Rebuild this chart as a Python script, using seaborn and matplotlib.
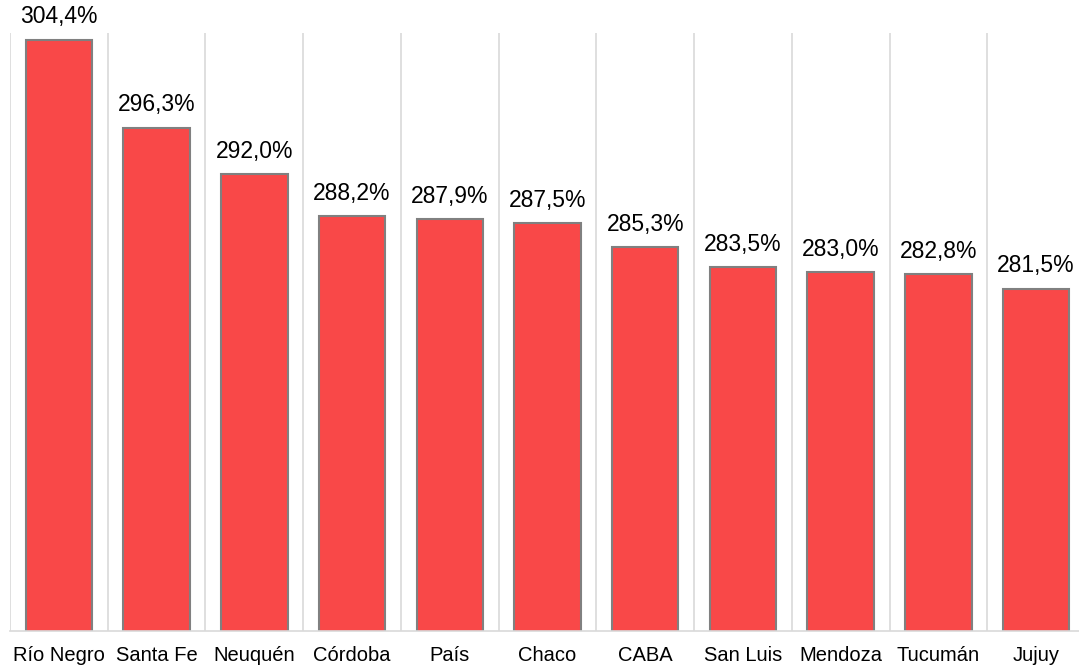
import matplotlib
matplotlib.use("Agg")
import matplotlib.pyplot as plt
import seaborn as sns
import pandas as pd

# data
provincias = ["Río Negro", "Santa Fe", "Neuquén", "Córdoba", "País", "Chaco",
              "CABA", "San Luis", "Mendoza", "Tucumán", "Jujuy"]
variacion = [304.4, 296.3, 292.0, 288.2, 287.9, 287.5, 285.3, 283.5, 283.0, 282.8, 281.5]

df = pd.DataFrame({"provincia": provincias, "variacion": variacion})

sns.set_theme(style="white")
plt.rcParams["font.family"] = ["Liberation Sans", "DejaVu Sans"]

fig = plt.figure(figsize=(10.79, 6.71), dpi=100)
ax = fig.add_axes([10 / 1079, 40 / 671, 1075 / 1079, 598 / 671])

sns.barplot(data=df, x="provincia", y="variacion", color="#F94848",
            saturation=1, width=0.68, edgecolor="#808080", linewidth=1.5, ax=ax)

ax.set_ylim(250, 305)
ax.set_xlim(-0.5, len(provincias) - 0.5)

# vertical separators between categories
for i in range(len(provincias) + 1):
    ax.axvline(i - 0.5, color="#D9D9D9", linewidth=1.2, zorder=0)

for i, v in enumerate(variacion):
    ax.annotate(f"{v:.1f}%".replace(".", ","), (i, v), xytext=(0, 8),
                textcoords="offset points", ha="center", va="bottom",
                fontsize=16.5, color="black", annotation_clip=False)

for s in ["top", "left", "right"]:
    ax.spines[s].set_visible(False)
ax.spines["bottom"].set_color("#D9D9D9")
ax.spines["bottom"].set_linewidth(1.2)
ax.set_yticks([])
ax.set_xlabel("")
ax.set_ylabel("")
ax.tick_params(axis="x", length=0, pad=11, labelsize=14.5, colors="black")

fig.savefig("out.png", dpi=100)
